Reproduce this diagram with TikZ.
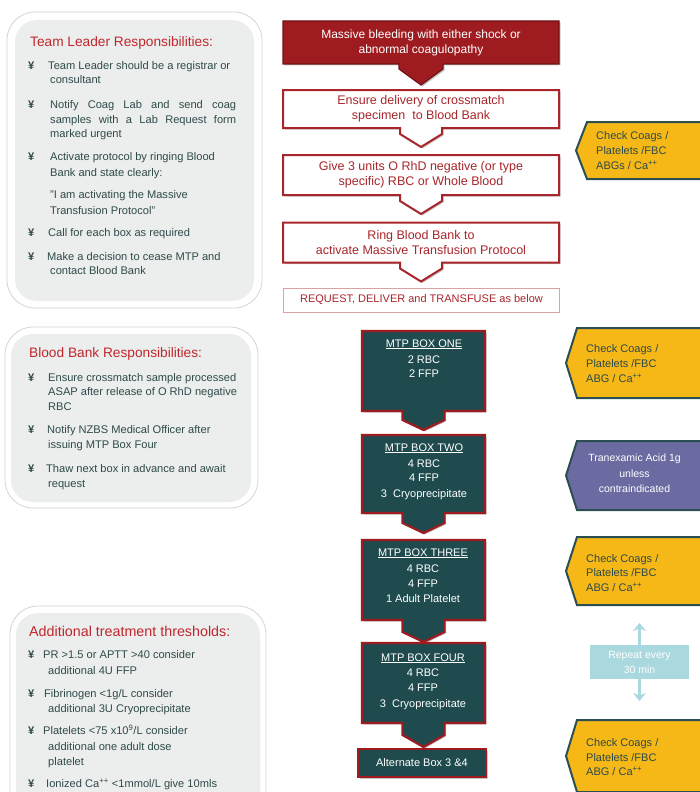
\documentclass[tikz,border=0pt]{standalone}
\usepackage{fontspec}
\setmainfont{Liberation Sans}
\usetikzlibrary{calc,backgrounds,arrows.meta}
\definecolor{ttlred}{HTML}{C0272D}
\definecolor{bodyc}{HTML}{2F4A4A}
\definecolor{pgray}{HTML}{ECEDED}
\definecolor{pborder}{HTML}{D4D4D4}
\definecolor{dred}{HTML}{9E1B20}
\definecolor{bred}{HTML}{A8262B}
\definecolor{mteal}{HTML}{1F4B4E}
\definecolor{gold}{HTML}{F6B817}
\definecolor{edgec}{HTML}{2B4E52}
\definecolor{purp}{HTML}{6B6BA2}
\definecolor{cyanl}{HTML}{A9D8DE}
\definecolor{ytext}{HTML}{2C4A4A}
\definecolor{reqborder}{HTML}{D9A3A3}
\begin{document}
\begin{tikzpicture}[x=1pt,y=-1pt,
  panelouter/.style={draw=pborder, line width=0.8pt, fill=white, rounded corners=28pt},
  panelinner/.style={fill=pgray, rounded corners=22pt},
  ttl/.style={anchor=base west, inner sep=0pt, font=\fontsize{13.7}{16}\selectfont, text=ttlred},
  bt/.style={anchor=base west, inner sep=0pt, font=\fontsize{11.1}{14}\selectfont, text=bodyc},
  bm/.style={anchor=base west, inner sep=0pt, font=\fontsize{11.1}{14}\selectfont\bfseries, text=bodyc},
  tabbox/.style n args={4}{insert path={(#1.north west) -- (#1.north east) -- (#1.south east) -- ($(#1.south)+(#2,0)$) -- ($(#1.south)+(#2,#3)$) -- ($(#1.south)+(0,#4)$) -- ($(#1.south)+(-#2,#3)$) -- ($(#1.south)+(-#2,0)$) -- (#1.south west) -- cycle}},
  flowtext/.style={inner sep=0pt, outer sep=0pt, minimum width=276pt, align=center, font=\fontsize{12.5}{15.5}\selectfont, text=bred},
  mtpbox/.style={inner sep=0pt, outer sep=0pt, minimum width=123pt, minimum height=80pt},
  mt/.style={anchor=base, inner sep=0pt, font=\fontsize{11}{14}\selectfont, text=white},
  yt/.style={anchor=base west, inner sep=0pt, font=\fontsize{11}{14}\selectfont, text=ytext},
  yshape/.style={fill=gold, draw=edgec, line width=2pt, line join=miter},
  pt/.style={anchor=base, inner sep=0pt, font=\fontsize{10.5}{14}\selectfont, text=white},
  shadowed/.style={preaction={fill=black!22, transform canvas={xshift=1.5pt, yshift=-1.5pt}}},
]
\useasboundingbox (0,0) rectangle (700,792);

% ---------- left panels ----------
\path[panelouter] (7,12) rectangle (262,308);
\path[panelinner] (15,20) rectangle (254,301);
\path[panelouter] (5,327) rectangle (258,508);
\path[panelinner] (11,334) rectangle (251,502);
\path[panelouter] (10,606) rectangle (266,830);
\path[panelinner] (16,613) rectangle (260,830);

\node[ttl] (t1) at (30,47) {Team Leader Responsibilities:};
\node[bm] (b11) at (28,70) {¥};
\node[bt] (l11a) at (48,70) {Team Leader should be a registrar or};
\node[bt] (l11b) at (50,84) {consultant};
\node[bm] (b12) at (28,108) {¥};
\node[bt] (l12a) at (50,108) {\makebox[186pt][s]{Notify Coag Lab and send coag}};
\node[bt] (l12b) at (50,123) {\makebox[186pt][s]{samples with a Lab Request form}};
\node[bt] (l12c) at (50,137) {marked urgent};
\node[bm] (b13) at (28,160) {¥};
\node[bt] (l13a) at (50,160) {Activate protocol by ringing Blood};
\node[bt] (l13b) at (50,176) {Bank and state clearly:};
\node[bt] (l13c) at (50,198) {"I am activating the Massive};
\node[bt] (l13d) at (50,214) {Transfusion Protocol"};
\node[bm] (b14) at (28,236) {¥};
\node[bt] (l14a) at (48,236) {Call for each box as required};
\node[bm] (b15) at (28,260) {¥};
\node[bt] (l15a) at (47,260) {Make a decision to cease MTP and};
\node[bt] (l15b) at (50,274) {contact Blood Bank};

\node[ttl] (t2) at (29,357) {Blood Bank Responsibilities:};
\node[bm] (b21) at (28,381) {¥};
\node[bt] (l21a) at (48,381) {Ensure crossmatch sample processed};
\node[bt] (l21b) at (48,395) {ASAP after release of O RhD negative};
\node[bt] (l21c) at (48,410) {RBC};
\node[bm] (b22) at (28,433) {¥};
\node[bt] (l22a) at (47,433) {Notify NZBS Medical Officer after};
\node[bt] (l22b) at (48,448) {issuing MTP Box Four};
\node[bm] (b23) at (28,472) {¥};
\node[bt] (l23a) at (46,472) {Thaw next box in advance and await};
\node[bt] (l23b) at (48,487) {request};

\node[ttl, font=\fontsize{14.3}{16}\selectfont] (t3) at (29,636) {Additional treatment thresholds:};
\node[bm] (b31) at (28,658) {¥};
\node[bt] (l31a) at (43,658) {PR >1.5 or APTT >40 consider};
\node[bt] (l31b) at (48,674) {additional 4U FFP};
\node[bm] (b32) at (28,697) {¥};
\node[bt] (l32a) at (44,697) {Fibrinogen <1g/L consider};
\node[bt] (l32b) at (48,712) {additional 3U Cryoprecipitate};
\node[bm] (b33) at (28,734) {¥};
\node[bt] (l33a) at (43,734) {Platelets <75 x10\textsuperscript{9}/L consider};
\node[bt] (l33b) at (48,750) {additional one adult dose};
\node[bt] (l33c) at (48,765) {platelet};
\node[bm] (b34) at (28,787) {¥};
\node[bt] (l34a) at (46,787) {Ionized Ca\textsuperscript{++} <1mmol/L give 10mls};

% ---------- top flow ----------
\node[flowtext, minimum height=43pt, text=white, font=\fontsize{12}{15}\selectfont] (f1) at (421,42.5) {Massive bleeding with either shock or\\abnormal coagulopathy};
\node[flowtext, minimum height=38pt] (f2) at (421,109) {Ensure delivery of crossmatch\\specimen\ \ to Blood Bank};
\node[flowtext, minimum height=40pt] (f3) at (421,175) {Give 3 units O RhD negative (or type\\specific) RBC or Whole Blood};
\node[flowtext, minimum height=40pt] (f4) at (421,242.5) {Ring Blood Bank to\\activate Massive Transfusion Protocol};
\node[flowtext, minimum height=24pt, font=\fontsize{11}{13}\selectfont, draw=reqborder, line width=0.8pt, fill=white] (f5) at (421.5,300) {REQUEST, DELIVER and TRANSFUSE as below};

\begin{scope}[on background layer]
\draw[shadowed, fill=dred, draw=dred!70!black, line width=1.2pt, line join=miter] [tabbox={f1}{22}{5}{21}];
\draw[shadowed, fill=white, draw=bred, line width=2pt, line join=miter] [tabbox={f2}{21}{6}{19}];
\draw[shadowed, fill=white, draw=bred, line width=2pt, line join=miter] [tabbox={f3}{21}{6}{19}];
\draw[shadowed, fill=white, draw=bred, line width=2pt, line join=miter] [tabbox={f4}{21}{6}{19}];
\end{scope}

% ---------- MTP boxes ----------
\node[mtpbox] (m1) at (423.5,371) {};
\node[mtpbox, minimum height=78pt] (m2) at (423.5,474) {};
\node[mtpbox] (m3) at (423.5,580) {};
\node[mtpbox] (m4) at (423.5,683) {};
\node[mtpbox, minimum width=128pt, minimum height=28pt, font=\fontsize{11}{14}\selectfont, text=white] (alt) at (422,763) {Alternate Box 3 \&4};

\begin{scope}[on background layer]
\draw[shadowed, fill=mteal, draw=dred, line width=2.2pt, line join=miter] [tabbox={m1}{21}{9}{19}];
\draw[shadowed, fill=mteal, draw=dred, line width=2.2pt, line join=miter] [tabbox={m2}{21}{10}{20}];
\draw[shadowed, fill=mteal, draw=dred, line width=2.2pt, line join=miter] [tabbox={m3}{21}{12}{22}];
\draw[shadowed, fill=mteal, draw=dred, line width=2.2pt, line join=miter] [tabbox={m4}{21}{12}{24}];
\draw[shadowed, fill=mteal, draw=dred, line width=2.2pt] (alt.north west) rectangle (alt.south east);
\end{scope}

\node[mt] (m1a) at (424,347) {\underline{MTP BOX ONE}};
\node[mt] (m1b) at (424,363) {2 RBC};
\node[mt] (m1c) at (424,377) {2 FFP};
\node[mt] (m2a) at (424,451) {\underline{MTP BOX TWO}};
\node[mt] (m2b) at (424,467) {4 RBC};
\node[mt] (m2c) at (424,481) {4 FFP};
\node[mt] (m2d) at (424,497) {3\ \ Cryoprecipitate};
\node[mt] (m3a) at (423,556) {\underline{MTP BOX THREE}};
\node[mt] (m3b) at (423,572) {4 RBC};
\node[mt] (m3c) at (423,587) {4 FFP};
\node[mt] (m3d) at (423,602) {1 Adult Platelet};
\node[mt] (m4a) at (423,661) {\underline{MTP BOX FOUR}};
\node[mt] (m4b) at (423,676) {4 RBC};
\node[mt] (m4c) at (423,691) {4 FFP};
\node[mt] (m4d) at (423,707) {3\ \ Cryoprecipitate};

% ---------- right side ----------
\draw[yshape] (702,122) -- (587,122) -- (576,150.5) -- (587,179) -- (702,179);
\node[yt] (y1a) at (596,139) {Check Coags /};
\node[yt] (y1b) at (596,154) {Platelets /FBC};
\node[yt] (y1c) at (596,169) {ABGs / Ca\textsuperscript{++}};

\draw[yshape] (702,328) -- (577,328) -- (566,363) -- (577,398) -- (702,398);
\node[yt] (y2a) at (586,352) {Check Coags /};
\node[yt] (y2b) at (586,367) {Platelets /FBC};
\node[yt] (y2c) at (586,382) {ABG / Ca\textsuperscript{++}};

\draw[yshape, fill=purp] (702,441) -- (577,441) -- (566,475.5) -- (577,510) -- (702,510);
\node[pt] (p1) at (634.5,461) {Tranexamic Acid 1g};
\node[pt] (p2) at (634.5,477) {unless};
\node[pt] (p3) at (634.5,492) {contraindicated};

\draw[yshape] (702,537) -- (577,537) -- (566,571) -- (577,605) -- (702,605);
\node[yt] (y3a) at (586,562) {Check Coags /};
\node[yt] (y3b) at (586,576) {Platelets /FBC};
\node[yt] (y3c) at (586,591) {ABG / Ca\textsuperscript{++}};

\node[fill=cyanl, minimum width=99pt, minimum height=34pt, inner sep=0pt, align=center, text=white, font=\fontsize{10.5}{15}\selectfont] (rep) at (639.5,662) {Repeat every\\30 min};
\coordinate (repup) at (639.5,623);
\coordinate (repdn) at (639.5,701);
\draw[cyanl, line width=3pt, -{Stealth[length=8pt,width=13pt]}] (rep.north) -- (repup);
\draw[cyanl, line width=3pt, -{Stealth[length=8pt,width=13pt]}] (rep.south) -- (repdn);

\draw[yshape] (702,720) -- (577,720) -- (566,756) -- (577,792) -- (702,792);
\node[yt] (y4a) at (586,746) {Check Coags /};
\node[yt] (y4b) at (586,761) {Platelets /FBC};
\node[yt] (y4c) at (586,775) {ABG / Ca\textsuperscript{++}};
\end{tikzpicture}
\end{document}
